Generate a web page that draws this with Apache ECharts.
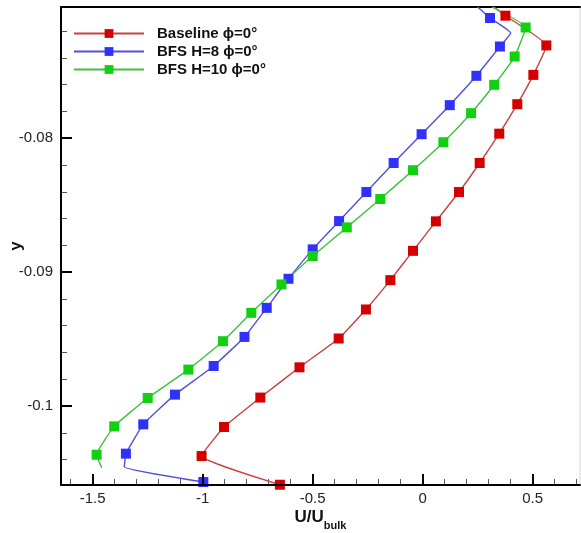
<!DOCTYPE html>
<html>
<head>
<meta charset="utf-8">
<script src="https://cdn.jsdelivr.net/npm/echarts@6/dist/echarts.min.js"></script>
<style>
  html, body { margin: 0; padding: 0; background: #fff; }
  #chart { width: 581px; height: 533px; }
</style>
</head>
<body>
<div id="chart"></div>
<script>
// Streamwise velocity profiles U/Ubulk against wall-normal position y.
const seriesNames = ['Baseline \u03D5=0\u00B0', 'BFS H=8 \u03D5=0\u00B0', 'BFS H=10 \u03D5=0\u00B0'];

// Baseline
const baselineU = [0.324, 0.376, 0.562, 0.503, 0.430, 0.348, 0.259, 0.165, 0.060, -0.044, -0.147, -0.258, -0.382, -0.560, -0.738, -0.903, -1.005, -0.649];
const baselineY = [-0.0702, -0.07085, -0.07307, -0.07527, -0.07746, -0.07966, -0.08185, -0.08402, -0.08621, -0.08841, -0.09060, -0.09279, -0.09496, -0.09711, -0.09937, -0.10157, -0.10374, -0.10588];
const baselinePlain = [0];

// BFS H=8
const bfs8U = [0.250, 0.306, 0.400, 0.351, 0.244, 0.123, -0.005, -0.132, -0.256, -0.380, -0.500, -0.610, -0.709, -0.810, -0.950, -1.126, -1.270, -1.349, -1.356, -0.997];
const bfs8Y = [-0.0702, -0.07102, -0.07215, -0.07315, -0.07534, -0.07753, -0.07970, -0.08185, -0.08402, -0.08619, -0.08830, -0.09050, -0.09267, -0.09484, -0.09701, -0.09915, -0.10137, -0.10356, -0.10454, -0.10568];
const bfs8Plain = [0, 2, 18];

// BFS H=10
const bfs10U = [0.315, 0.468, 0.418, 0.325, 0.220, 0.094, -0.044, -0.193, -0.345, -0.500, -0.642, -0.779, -0.908, -1.065, -1.250, -1.402, -1.482, -1.459];
const bfs10Y = [-0.0702, -0.07173, -0.07390, -0.07601, -0.07813, -0.08030, -0.08239, -0.08454, -0.08666, -0.08880, -0.09092, -0.09304, -0.09516, -0.09728, -0.09940, -0.10152, -0.10364, -0.10461];
const bfs10Plain = [0, 17];

// Axis ticks
const xMajorTicks = [-1.5, -1, -0.5, 0, 0.5];
const xMinorTicks = [-1.6, -1.4, -1.3, -1.2, -1.1, -0.9, -0.8, -0.7, -0.6, -0.4, -0.3, -0.2, -0.1, 0.1, 0.2, 0.3, 0.4, 0.6, 0.7];
const yMajorTicks = [-0.1, -0.09, -0.08];
const yMinorTicks = [-0.104, -0.102, -0.098, -0.096, -0.094, -0.092, -0.088, -0.086, -0.084, -0.082, -0.078, -0.076, -0.074, -0.072];

const X_MIN = -1.644, X_MAX = 0.715;
const Y_MIN = -0.1059, Y_MAX = -0.0702;

const FONT = 'Liberation Sans, Arial, sans-serif';

function buildPoints(us, ys, plain) {
  return us.map((u, i) => plain.includes(i)
    ? { value: [u, ys[i]], symbol: 'none' }
    : { value: [u, ys[i]] });
}

function makeSeries(name, us, ys, plain, lineColor, markColor) {
  return {
    name: name,
    type: 'line',
    data: buildPoints(us, ys, plain),
    smooth: 0.12,
    symbol: 'rect',
    symbolSize: 10,
    showAllSymbol: true,
    lineStyle: { color: lineColor, width: 1.4 },
    itemStyle: { color: markColor },
    emphasis: { disabled: true },
    z: 3
  };
}

// Tick-only axis sharing the grid with a main axis (minor ticks, top frame line)
function tickAxis(min, max, position, tickValues, lineColor) {
  return {
    type: 'value', gridIndex: 0, min: min, max: max, position: position,
    axisLine: { show: true, onZero: false, lineStyle: { color: lineColor, width: 2 } },
    axisTick: tickValues
      ? { show: true, inside: true, length: 6, customValues: tickValues, lineStyle: { color: '#555', width: 1 } }
      : { show: false },
    axisLabel: { show: false },
    splitLine: { show: false }
  };
}

const chart = echarts.init(document.getElementById('chart'), null, { renderer: 'canvas' });

chart.setOption({
  animation: false,
  backgroundColor: '#ffffff',
  grid: {
    left: 61, right: 1, top: 7, bottom: 48,
    outerBoundsMode: 'none', containLabel: false,
    show: true, borderColor: '#d8d8d8', borderWidth: 1
  },
  legend: {
    left: 68, top: 21, orient: 'vertical',
    itemWidth: 70, itemHeight: 11, itemGap: 3,
    data: seriesNames,
    textStyle: { fontFamily: FONT, fontSize: 15, fontWeight: 'bold', color: '#111', padding: [0, 0, 0, 8] }
  },
  xAxis: [
    {
      type: 'value', min: X_MIN, max: X_MAX, position: 'bottom',
      name: '{m|U/U}{s|bulk}', nameLocation: 'middle', nameGap: 24, nameMoveOverlap: false,
      nameTextStyle: {
        rich: {
          m: { fontFamily: FONT, fontSize: 17, fontWeight: 'bold', color: '#111', verticalAlign: 'bottom' },
          s: { fontFamily: FONT, fontSize: 11, fontWeight: 'bold', color: '#111', verticalAlign: 'bottom', padding: [0, 0, -5, 0] }
        }
      },
      axisLine: { show: true, onZero: false, lineStyle: { color: '#000', width: 2 } },
      axisTick: { show: true, inside: true, length: 11, customValues: xMajorTicks, lineStyle: { color: '#000', width: 2 } },
      axisLabel: { show: true, customValues: xMajorTicks, margin: 6, fontFamily: FONT, fontSize: 15, color: '#222' },
      splitLine: { show: false },
      z: 5
    },
    tickAxis(X_MIN, X_MAX, 'bottom', xMinorTicks, 'rgba(0,0,0,0)'),
    tickAxis(X_MIN, X_MAX, 'top', null, '#000')
  ],
  yAxis: [
    {
      type: 'value', min: Y_MIN, max: Y_MAX, position: 'left',
      name: 'y', nameLocation: 'middle', nameGap: 36, nameRotate: 90, nameMoveOverlap: false,
      nameTextStyle: { fontFamily: FONT, fontSize: 17, fontWeight: 'bold', color: '#111' },
      axisLine: { show: true, onZero: false, lineStyle: { color: '#000', width: 2 } },
      axisTick: { show: true, inside: true, length: 11, customValues: yMajorTicks, lineStyle: { color: '#000', width: 2 } },
      axisLabel: { show: true, customValues: yMajorTicks, margin: 8, fontFamily: FONT, fontSize: 15, color: '#222' },
      splitLine: { show: false },
      z: 5
    },
    tickAxis(Y_MIN, Y_MAX, 'left', yMinorTicks, 'rgba(0,0,0,0)')
  ],
  series: [
    makeSeries(seriesNames[0], baselineU, baselineY, baselinePlain, '#c94040', '#d40000'),
    makeSeries(seriesNames[1], bfs8U, bfs8Y, bfs8Plain, '#5050e0', '#3030ff'),
    makeSeries(seriesNames[2], bfs10U, bfs10Y, bfs10Plain, '#40c040', '#10d010')
  ]
});
</script>
</body>
</html>
